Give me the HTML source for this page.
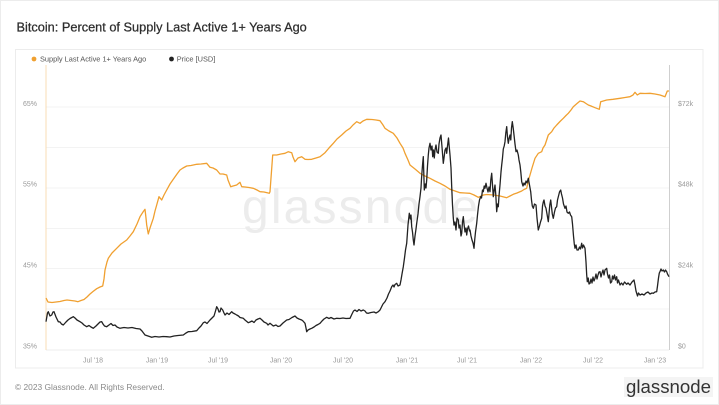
<!DOCTYPE html>
<html><head><meta charset="utf-8"><style>
html,body{margin:0;padding:0;background:#fff;}
body{width:719px;height:405px;overflow:hidden;}
svg{display:block;font-family:"Liberation Sans",sans-serif;}
</style></head><body>
<svg width="719" height="405" viewBox="0 0 719 405" xmlns="http://www.w3.org/2000/svg">
<rect x="0.5" y="0.5" width="718" height="404" fill="#fff" stroke="#ececec"/>
<text x="16.5" y="31.7" font-size="12.75" fill="#2e2e2e" stroke="#2e2e2e" stroke-width="0.25">Bitcoin: Percent of Supply Last Active 1+ Years Ago</text>
<rect x="15.5" y="49.5" width="687.5" height="318.5" fill="#fff" stroke="#ececec"/>
<circle cx="34" cy="59" r="2.4" fill="#f0a030"/>
<text x="40" y="61.7" font-size="7.4" fill="#555">Supply Last Active 1+ Years Ago</text>
<circle cx="171.5" cy="59" r="2.4" fill="#222"/>
<text x="176.7" y="61.7" font-size="7.4" fill="#555">Price [USD]</text>
<g stroke="#f3f3f3" stroke-width="1">
<line x1="46" y1="107" x2="669" y2="107"/>
<line x1="46" y1="147.5" x2="669" y2="147.5"/>
<line x1="46" y1="188" x2="669" y2="188"/>
<line x1="46" y1="228.5" x2="669" y2="228.5"/>
<line x1="46" y1="268.5" x2="669" y2="268.5"/>
<line x1="46" y1="309" x2="669" y2="309"/>
<line x1="46" y1="350" x2="669" y2="350" stroke="#ececec"/>
</g>
<line x1="46" y1="65" x2="46" y2="350" stroke="#f8dcb5" stroke-width="1"/>
<line x1="669.5" y1="65" x2="669.5" y2="350" stroke="#cfcfcf" stroke-width="1"/>
<text x="360" y="223" font-size="48" fill="#ececec" text-anchor="middle" textLength="236" lengthAdjust="spacing">glassnode</text>
<g font-size="7" fill="#999">
<text x="37" y="106" text-anchor="end">65%</text>
<text x="37" y="186.5" text-anchor="end">55%</text>
<text x="37" y="267.5" text-anchor="end">45%</text>
<text x="37" y="348.5" text-anchor="end">35%</text>
<text x="678" y="106">$72k</text>
<text x="678" y="186.5">$48k</text>
<text x="678" y="267.5">$24k</text>
<text x="678" y="348.5">$0</text>
<g text-anchor="middle">
<text x="93" y="362.5">Jul '18</text>
<text x="157" y="362.5">Jan '19</text>
<text x="218" y="362.5">Jul '19</text>
<text x="281" y="362.5">Jan '20</text>
<text x="343" y="362.5">Jul '20</text>
<text x="407" y="362.5">Jan '21</text>
<text x="467" y="362.5">Jul '21</text>
<text x="531" y="362.5">Jan '22</text>
<text x="593" y="362.5">Jul '22</text>
<text x="655" y="362.5">Jan '23</text>
</g>
</g>
<polyline fill="none" stroke="#f0a030" stroke-width="1.3" stroke-linejoin="round" points="46,298 48,302 52,302.5 56,302 60,301.5 64,300.5 67,300 71,300.5 75,301 78,301.7 81,300.5 84,299.5 87,297 90,294 93,291.5 96.7,288.7 100,287 102.7,286 104,279 105,270 107,262 108.3,258.3 112,253 116.7,248.3 121,244 126.7,240 130,236 133.3,231.7 137,224 140,216.7 143,212 145,209.3 146,218 146.7,225 148.3,234 150,228 153.3,218.3 155,211 156.7,205 159,196.7 161.7,200 164,195 166.7,190 170,184 173.3,179.3 177,174 180,170 183,168 186.7,166 191,165.5 196.7,164.3 201,164 206.7,163.3 210,167.3 213,168 216.7,170 220,174 223,174 226.7,175 228,180 230.7,186.7 233,186 236.7,185 240,182.3 241.7,186.7 245,187 249,187.5 253.3,188.3 257,190 260,191.7 264,192 269.3,193.3 270,191.7 272.7,155 276.7,155 281,154 285,153.3 288.3,151.7 291.7,152.7 293,157 295,161.7 298,158 301.7,156.7 305,159.3 308,159.5 311.7,159.3 316,158 320,156.7 325,152.7 329,148 333.3,143.3 337,139 341.7,135 346,131 350,128.3 353,125 356.7,121.7 360,123.3 363,121 366.7,119.3 372,119.5 376,120 380,120.7 383,125 385,128.3 389,131 393.3,133.3 397,138 400,143.3 403,148 405,153.3 408,160 410,165 415,169 420,173.3 425,176 430,178.3 435,181 440,183.3 445,186 450,189.3 455,191 460,192.7 465,193 470,193.3 474,195 478.3,197.3 483.3,195 487,194.5 493.3,195 500,196 506.7,197.7 510,196 513.3,194.3 517,193 521.7,191 524,189.5 526.7,188.3 528,182 530,175 532,168 535,158.3 538.3,153.3 541.7,151.7 543,148 545,145 547,139 548.3,135 551.7,131.7 554,128 556.7,125 560,121.5 563.3,118.3 566,115.5 568.3,113.3 571,110 573.3,106.7 577,103.5 580,101 583.3,101.7 586,103.5 588.3,105 591,106 595,107.7 599.3,109.3 600.7,101.7 606.7,100 613,99.3 620,98.3 625,97.5 630,96.7 633,95 635,92.3 637.3,95 640,93.3 645,93.5 650,93.3 655,94 660,95 665,96.7 667.3,91 669,91"/>
<polyline fill="none" stroke="#222" stroke-width="1.3" stroke-linejoin="round" points="46,321.7 47.5,313 48.3,311.7 50,316 51.7,315 53,312 54,311.7 56,317 58.3,321.7 60,322 61.5,324 63.3,325 66,322 68,320 70,318.5 73.3,316.7 75,318 77,320 80,321.7 82,323 84,325 86.7,326.7 89,325.5 91,327 93.3,328.3 96,326 98,324 100,322 101.7,321.7 103,324 104.5,326 106.7,326.7 109,325 111,323.5 113,325.5 115,325 117,327 120,328.3 124,327.5 128,328 132,327.5 136,328.5 140,329 142,331 145,335 148,336 151.7,337.3 155,336.5 159,337 163,336.5 166.7,336.7 170,337 174,336 178,335.5 183.3,335 186,333 188.3,331.7 192,331.5 196.7,330.7 199,328 201,326 203.3,322.7 205,322 207,323.5 210,320 212,318 214,316 215.5,311 216.7,306.7 218,309 219,312 220,311.7 221,308 222.7,310 224,313 225,315 227,313 229,314.5 231.7,311.7 233,313 235,314 236.7,315 238.5,316 240,317.5 243.3,318.3 245,320 248.3,322.7 250,322 252,321 254,322.5 256,320 258,319 260,318.3 262,320 264,322 266.7,323.3 268,325 270,323.3 273.3,326 276,325 278,326.5 280,326 283,323 286.7,320 289,319.5 292,317.5 295,316 297,318 299,319 301.7,320 303,321 305,323.3 306,328 306.7,331.7 308,330 310,329 311.7,328.3 314,327 316,325.5 318,324.5 320,323.3 322,321 324,319 326.7,317.3 329,318.5 331,317.5 334,319 336.7,318.3 340,318.5 343,318 346,318.5 350,318.3 352,314 353.5,311 355,310 357,311.5 359,309.5 361,311 363.3,310 365,311 366.5,313 368.3,313.3 371,312.5 374,312 376,313 378.3,311.7 380,310 381.5,307 383,304 385,301.7 387,298 388.5,294 390,291 391.7,286.7 393,285 394,287 395,284.5 396.7,283.3 398,286 400,285 401,280 402,274 403.3,266.7 404.5,258 405.5,250 406.7,243.3 407.5,232 408,225 409.3,213.3 410.3,219 411,215 411.7,226.7 412.5,232 413.3,240 414,245 415,236 416,229 416.7,223.3 418,214 419,204 420,196.7 421,188 421.5,179 422,172 422.7,163 423.3,156.7 424.3,190 425.3,184 426,188 426.7,180 427.5,166 428.3,155 429,148 430,143.3 431,150 432,146 432.7,156.7 433.5,150 434.3,158 435,150 436,145 437,152 438.3,153.3 439,144 440,138 441,135 442,147 443.3,163.3 444,158 445,150 446,148 446.7,153.3 447.5,146 448.5,138 449,144 450,155 451,168 451.7,186.7 452.5,205 453.3,218 454,225 455,222 456,230 457,218 458.3,220 459,228 460,225 461,236 461.7,233.3 462.5,222 463.3,216.7 464,224 465,232 466,228 466.7,235 467.5,229 468.5,226 469.5,231 470,230 471,236 472,240 473,243 474,248.3 474.7,240 475.5,232 476.7,223.3 477.5,215 478.5,206 479.5,200 480.7,196.7 481.5,198 482.5,190 483.3,191.7 484.2,186 485,188.3 486,183.3 487,188 488,192 489,187 490,191.7 490.8,180 491.7,173.3 492.5,185 493.3,196.7 494.2,190 495,185 495.8,195 496.7,211.7 497.5,204 498.3,206.7 499,196 500,185 501,172 501.7,165 502.5,158 503.3,149 504.2,146 505,141.7 505.8,133 506.7,126.7 507.5,137 508.3,143.3 509.2,138 510,135 510.8,140 511.5,128 512.3,121.7 513.2,128 514,135 515,144 516,151.7 517,150 518.3,155 519,160 520,165 520.8,172 521.7,181.7 523,186 524,183 525,185 526,181 527,183 528.3,178.3 529.5,185 530.7,191.7 531.5,200 532.3,206 533.3,208.3 534.5,204 536,205 537,218 538.3,230 539.5,226 540.5,222 541.7,218.3 542.5,206 543.3,202 544,200 545,206 546,208.3 547,214 548.3,221.7 549,214 549.8,205 550.7,200 551.5,207 552.3,214 553.3,218.3 554.5,212 555.5,208 556.7,206.7 557.5,200 558.5,196 559.5,192 560.7,190 561.5,194 562.5,198 563.5,204 565,208.3 566,206 567,212 568.3,213.3 569.5,212 570.5,215 571.7,216.7 572.5,224 573.5,236 574.3,244 575,248.3 576,245 577,250 578.3,250 579.5,247 580.5,249 581.7,243.3 582.5,248 583.5,245 585,248.3 586,262 586.7,275 587.3,281.7 588.2,278 589,284 590,283.3 591,279 592,283 593,277 594,281 595,278.3 596,274 597,279 598,275 599,272 600,271.7 601,277 602,273 603,270 604,275 605,270 606.7,268.3 607.5,274 608.5,278 609.5,275 610.5,283 611.7,281.7 612.5,276 613.5,279 614.5,275 615.5,280 616.7,276.7 617.5,283 618.5,280 620,285 621.5,283 623,285 624.5,282 626.7,284.3 628,283 630,285 632,282 634,280 635,285 636,291 636.7,293.3 637.5,296 638.5,293 640,295 642,294 644,295 646,293 648,292 650,294 652,293 653.3,293.3 655,292 656.7,291.7 657.5,286 658.5,278 659.3,273 660,271.7 661,269 662,271 663.3,270 664.5,272 665.5,270 666.7,271.7 667.5,274 669,276.7"/>
<text x="15" y="390" font-size="8.4" fill="#8a8a8a">© 2023 Glassnode. All Rights Reserved.</text>
<rect x="624" y="377" width="89" height="20" fill="#f4f4f4"/>
<text x="626" y="393" font-size="18.5" fill="#333" textLength="85" lengthAdjust="spacingAndGlyphs">glassnode</text>
</svg>
</body></html>
